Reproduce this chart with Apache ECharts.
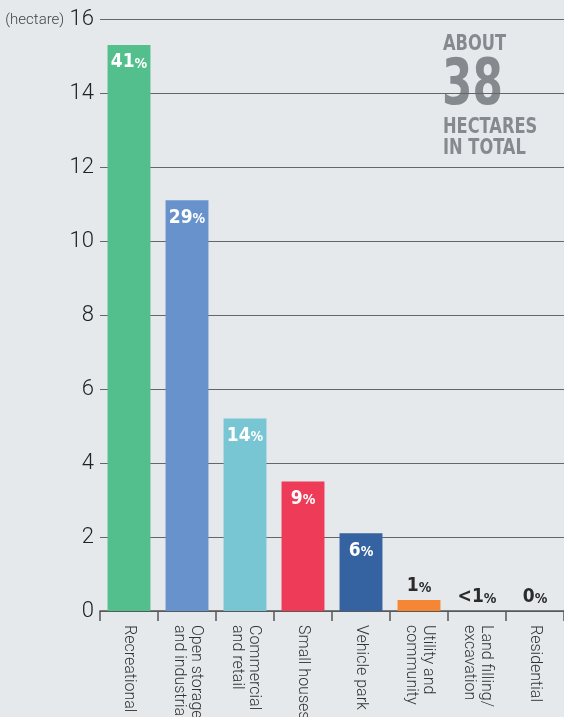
<!DOCTYPE html>
<html>
<head>
<meta charset="utf-8">
<script src="https://cdn.jsdelivr.net/npm/echarts@6/dist/echarts.min.js"></script>
<style>
  html, body { margin: 0; padding: 0; background: #e5e9ec; overflow: hidden; }
  #chart { width: 564px; height: 717px; }
</style>
</head>
<body>
<div id="chart"></div>
<script>
// Land use categories (hectares)
const categories = [
    'Recreational',
    'Open storage\nand industrial',
    'Commercial\nand retail',
    'Small houses',
    'Vehicle park',
    'Utility and\ncommunity',
    'Land filling/\nexcavation',
    'Residential'
];
const hectares = [15.3, 11.1, 5.2, 3.5, 2.1, 0.3, 0, 0];
const shareNum = ['41', '29', '14', '9', '6', '1', '<1', '0'];
const barColors = ['#52bf8c', '#6892cc', '#78c5d3', '#ee3b57', '#3562a1', '#f58634', '#888', '#888'];
const yTicks = { min: 0, max: 16, step: 2 };

const condensed = "'Liberation Sans Narrow', 'DejaVu Sans Condensed', sans-serif";
const thin = "'Roboto', 'Liberation Sans Narrow', sans-serif";

// Build per-bar data with label placement (inside for tall bars, above for tiny ones)
function buildData() {
    return hectares.map((v, i) => {
        const inside = v > 1;
        return {
            value: v,
            itemStyle: { color: barColors[i] },
            label: {
                show: true,
                position: inside ? 'insideTop' : 'top',
                distance: inside ? 8 : 4,
                formatter: () => `{n|${shareNum[i]}}{p|%}`,
                rich: {
                    n: { fontFamily: condensed, fontWeight: 'bold', fontSize: 19, color: inside ? '#fff' : '#2b2b2b' },
                    p: { fontFamily: condensed, fontWeight: 'bold', fontSize: 14, color: inside ? '#fff' : '#2b2b2b', padding: [3, 0, 0, 0] }
                }
            }
        };
    });
}

function setupChart() {
    const chart = echarts.init(document.getElementById('chart'));

    const option = {
        backgroundColor: '#e5e9ec',
        animation: false,
        grid: { left: 100, right: 0, top: 19, bottom: 106, outerBoundsMode: 'none', containLabel: false },
        xAxis: {
            type: 'category',
            data: categories,
            axisLine: { show: true, lineStyle: { color: '#555', width: 1.5 } },
            axisTick: { show: true, length: 10, interval: 0, lineStyle: { color: '#555', width: 1.5 } },
            axisLabel: {
                interval: 0,
                rotate: -90,
                margin: 14,
                fontFamily: thin,
                fontWeight: 300,
                fontSize: 16,
                lineHeight: 17,
                color: '#333'
            }
        },
        yAxis: {
            type: 'value',
            min: yTicks.min,
            max: yTicks.max,
            interval: yTicks.step,
            axisLine: { show: false },
            axisTick: { show: false },
            splitLine: { lineStyle: { color: '#666', width: 1.2 } },
            axisLabel: {
                margin: 6,
                fontFamily: thin,
                fontWeight: 300,
                fontSize: 22,
                color: '#222',
                formatter: v => v === yTicks.max ? `{u|(hectare)} ${v}` : `${v}`,
                rich: {
                    u: { fontFamily: thin, fontWeight: 300, fontSize: 15, color: '#444', padding: [2, 0, 0, 0] }
                }
            }
        },
        series: [{
            type: 'bar',
            data: buildData(),
            barCategoryGap: '26%',
            z: 3
        }],
        graphic: [{
            type: 'group',
            left: 438,
            top: 34,
            z: 10,
            children: [
                { type: 'rect', shape: { x: 0, y: 0, width: 69, height: 126 }, style: { fill: '#e5e9ec' } },
                { type: 'text', x: 5, y: 0, scaleX: 0.86, style: { text: 'ABOUT', fontFamily: condensed, fontWeight: 'bold', fontSize: 21, fill: '#858a8e' } },
                { type: 'text', x: 4, y: 21, scaleX: 0.76, style: { text: '38', fontFamily: condensed, fontWeight: 'bold', fontSize: 64, fill: '#858a8e' } },
                { type: 'text', x: 5, y: 83, scaleX: 0.86, style: { text: 'HECTARES', fontFamily: condensed, fontWeight: 'bold', fontSize: 21, fill: '#858a8e' } },
                { type: 'text', x: 5, y: 104, scaleX: 0.86, style: { text: 'IN TOTAL', fontFamily: condensed, fontWeight: 'bold', fontSize: 21, fill: '#858a8e' } }
            ]
        }]
    };

    chart.setOption(option);
}

document.addEventListener('DOMContentLoaded', setupChart);
</script>
</body>
</html>
